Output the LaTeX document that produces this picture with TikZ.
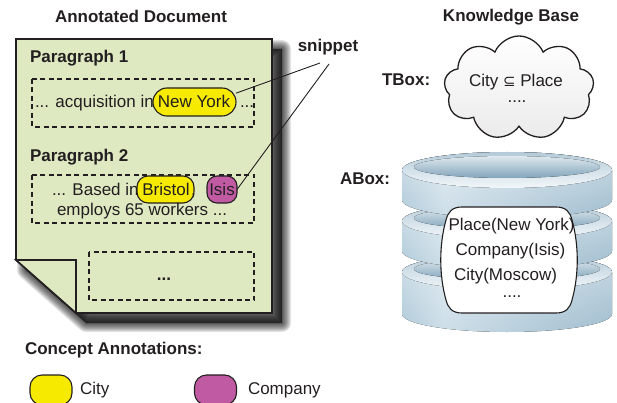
\documentclass[tikz,border=0pt]{standalone}
\usepackage{fontspec}
\setmainfont{Liberation Sans}
\newfontfamily\dejavu{DejaVu Sans}
\usetikzlibrary{shapes.symbols,fadings}
\definecolor{pagegreen}{RGB}{222,233,193}
\definecolor{cityyellow}{RGB}{246,235,0}
\definecolor{compmag}{RGB}{192,91,163}
\definecolor{txt}{RGB}{35,31,32}
\definecolor{faceOutTop}{RGB}{180,202,216}
\definecolor{faceOutBot}{RGB}{242,247,250}
\definecolor{faceInTop}{RGB}{222,232,238}
\definecolor{faceInBot}{RGB}{130,165,187}
\pgfdeclarehorizontalshading{cylside}{100bp}{%
  color(0bp)=(rgb,255:red,90;green,136;blue,162);
  color(20bp)=(rgb,255:red,160;green,192;blue,210);
  color(35bp)=(rgb,255:red,205;green,222;blue,232);
  color(60bp)=(rgb,255:red,176;green,201;blue,216);
  color(85bp)=(rgb,255:red,150;green,182;blue,201);
  color(100bp)=(rgb,255:red,110;green,150;blue,174)}
\newcommand{\cyldisk}[2]{%
  \fill[shading=cylside]
    (402,#1) -- (402,#2) arc[start angle=180,end angle=360,x radius=105pt,y radius=18pt]
    -- (612,#1) arc[start angle=0,end angle=180,x radius=105pt,y radius=18pt] -- cycle;
  \fill[white, opacity=0.45, path fading=south]
    (402,#1) -- (402,#2) arc[start angle=180,end angle=360,x radius=105pt,y radius=18pt]
    -- (612,#1) arc[start angle=0,end angle=180,x radius=105pt,y radius=18pt] -- cycle;
  \fill[top color=faceOutTop, bottom color=faceOutBot] (507,#1) ellipse[x radius=105pt, y radius=18pt];
  \fill[top color=faceInTop, bottom color=faceInBot] (507,#1-3) ellipse[x radius=93pt, y radius=11pt];
}
\begin{document}
\begin{tikzpicture}[x=1pt,y=-1pt,
  every node/.style={inner sep=0pt, outer sep=0pt, text=txt},
  body/.style={font=\fontsize{17}{20}\selectfont},
  title/.style={font=\fontsize{17}{20}\selectfont\bfseries},
  dbox/.style={draw=txt, dash pattern=on 5pt off 3.5pt, line width=1.1pt},
  annot/.style={draw=txt, line width=1.1pt, rounded corners=11pt},
  link/.style={draw=txt, line width=0.9pt}]
\useasboundingbox (0,0) rectangle (617,403);
\clip (0,0) rectangle (617,403);

% ---- page shadow
\foreach \k [evaluate=\k as \w using \k*2.0] in {9,...,1}{
  \filldraw[black, opacity=0.1, line width=\w pt, line join=round]
    (26,49) -- (282,49) -- (282,323) -- (86,323) -- (26,270) -- cycle;
}
% ---- page
\filldraw[fill=pagegreen, draw=txt, line width=1.6pt, line join=miter]
  (16,39) -- (272,39) -- (272,313) -- (76,313) -- (16,260) -- cycle;
\filldraw[fill=pagegreen, draw=txt, line width=1.6pt, line join=miter]
  (16,260) -- (76,260) -- (76,313) -- cycle;

% ---- titles
\node[title, anchor=base] (doctitle) at (141,23) {Annotated Document};
\node[title, anchor=base] (kbtitle) at (511,22) {Knowledge Base};

% ---- paragraph 1
\node[title, anchor=base west] (p1) at (30,63) {Paragraph 1};
\draw[dbox] (32,79) rectangle (254,127);
\node[body, anchor=base west] (t1) at (35,108) {... acquisition in};
\node[annot, fill=cityyellow, minimum width=83pt, minimum height=28pt, rounded corners=14pt] (ny) at (194.5,102) {};
\node[body, anchor=base] (nyt) at (194,108) {New York};
\node[body, anchor=base west] (t1b) at (240,108) {...};

% ---- paragraph 2
\node[title, anchor=base west] (p2) at (30,162) {Paragraph 2};
\draw[dbox] (32,175) rectangle (254,223);
\node[body, anchor=base west] (t2) at (52,195) {... Based in};
\node[annot, fill=cityyellow, minimum width=57pt, minimum height=27pt] (bri) at (165.5,189.5) {};
\node[body, anchor=base] (brit) at (166,195) {Bristol};
\node[body, anchor=base west] (comma) at (191,195) {,};
\node[annot, fill=compmag, minimum width=30pt, minimum height=27pt, rounded corners=10pt] (isis) at (222,189.5) {};
\node[body, anchor=base] (isist) at (222,195) {Isis};
\node[body, anchor=base west] (t3) at (57,215) {employs 65 workers ...};

% ---- paragraph 3
\draw[dbox] (89,252) rectangle (254,300);
\node[title, anchor=base] (dots) at (164,280) {...};

% ---- snippet
\node[title, anchor=base] (snip) at (328,52) {snippet};
\coordinate (s1) at (320,63);
\coordinate (s2) at (329,64);
\draw[link] (s1) -- (ny.12);
\draw[link] (s2) -- (isis.east);

% ---- legend
\node[title, anchor=base west] (legtitle) at (25,354) {Concept Annotations:};
\node[annot, fill=cityyellow, minimum width=42pt, minimum height=30pt, rounded corners=12pt] (legc) at (51,390) {};
\node[body, anchor=base west] (legct) at (80,394) {City};
\node[annot, fill=compmag, minimum width=42pt, minimum height=30pt, rounded corners=12pt] (legm) at (215.5,390) {};
\node[body, anchor=base west] (legmt) at (248,394) {Company};

% ---- TBox cloud
\node[title, anchor=base west] (tboxl) at (382,86) {TBox:};
\node[cloud, cloud puffs=9, cloud puff arc=135, aspect=1.45, draw=txt, line width=1.3pt,
      top color=white, bottom color=black!8, minimum width=150pt, minimum height=104pt] (tbox) at (519,88) {};
\node[body, anchor=base] (ax1) at (516,87) {City {\dejavu\fontsize{15}{18}\selectfont ⊆} Place};
\node[body, anchor=base] (ax2) at (517,103) {....};

% ---- ABox cylinder
\node[title, anchor=base west] (aboxl) at (340,185) {ABox:};
\cyldisk{272}{314}
\cyldisk{221}{251}
\cyldisk{170}{200}
\filldraw[fill=white, draw=txt, line width=1.1pt]
  (462,207) -- (556,207) .. controls (566,207) and (570,212) .. (572,220)
  .. controls (579,245) and (579,275) .. (572,300)
  .. controls (570,308) and (566,313) .. (556,313)
  -- (462,313) .. controls (452,313) and (448,308) .. (446,300)
  .. controls (439,275) and (439,245) .. (446,220)
  .. controls (448,212) and (452,207) .. (462,207) -- cycle;
\node[body, anchor=base] (a1) at (511.5,230) {Place(New York)};
\node[body, anchor=base] (a2) at (510.5,255) {Company(Isis)};
\node[body, anchor=base] (a3) at (505.5,280) {City(Moscow)};
\node[body, anchor=base] (a4) at (512,297) {....};
\end{tikzpicture}
\end{document}
